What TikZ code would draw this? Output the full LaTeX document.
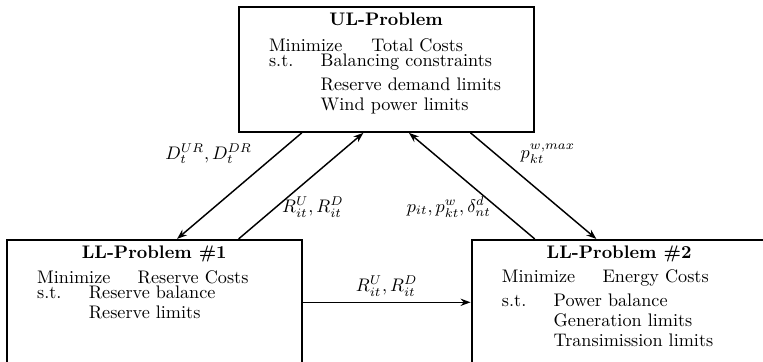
\documentclass[tikz,border=0pt]{standalone}
\usepackage{amsmath,amssymb}
\usepackage{tikz}
\usetikzlibrary{arrows.meta,calc}

\begin{document}
\begin{tikzpicture}[
    problem/.style={draw, line width=1.1pt, minimum width=5.70cm, minimum height=2.41cm, inner sep=0pt},
    probtitle/.style={font=\bfseries, anchor=base, inner sep=0pt},
    probbody/.style={anchor=base west, text width=5cm, align=left, inner sep=0pt},
    arrow/.style={-{Stealth[length=5.5pt, width=4pt]}, thick},
    lbl/.style={inner sep=3pt},
]
\useasboundingbox (0,0) rectangle (14.74,-6.99);

\node[problem] (ul) at (7.46,-1.342) {};
\node[probtitle] (ultitle) at ([yshift=-0.37cm]ul.north) {UL-Problem};
\node[probbody] (ulbody) at ([xshift=0.6cm,yshift=-0.87cm]ul.north west) {Minimize\hspace{16pt}Total Costs\\[-3.8pt]
  s.t.\hspace{15pt}Balancing constraints\\[1.2pt]
  \hphantom{s.t.}\hspace{15pt}Reserve demand limits\\[-1pt]
  \hphantom{s.t.}\hspace{15pt}Wind power limits};

\node[problem] (ll1) at (2.98,-5.84) {};
\node[probtitle] (ll1title) at ([yshift=-0.37cm]ll1.north) {LL-Problem \#1};
\node[probbody] (ll1body) at ([xshift=0.6cm,yshift=-0.86cm]ll1.north west) {Minimize\hspace{15pt}Reserve Costs\\[-3.8pt]
  s.t.\hspace{15pt}Reserve balance\\[-1pt]
  \hphantom{s.t.}\hspace{15pt}Reserve limits};

\node[problem] (ll2) at (11.96,-5.84) {};
\node[probtitle] (ll2title) at ([yshift=-0.37cm]ll2.north) {LL-Problem \#2};
\node[probbody] (ll2body) at ([xshift=0.6cm,yshift=-0.85cm]ll2.north west) {Minimize\hspace{15pt}Energy Costs\\[1.2pt]
  s.t.\hspace{15pt}Power balance\\[-1pt]
  \hphantom{s.t.}\hspace{15pt}Generation limits\\[-1pt]
  \hphantom{s.t.}\hspace{15pt}Transimission limits};

\draw[arrow] ([xshift=-1.63cm]ul.south) -- node[lbl, above left, pos=0.35] {$D_t^{UR}, D_t^{DR}$} ([xshift=0.44cm]ll1.north);
\draw[arrow] ([xshift=1.63cm]ll1.north) -- node[lbl, right, pos=0.3] {$R_{it}^U, R_{it}^D$} ([xshift=-0.44cm]ul.south);
\draw[arrow] ([xshift=-1.63cm]ll2.north) -- node[lbl, left, pos=0.3] {$p_{it}, p_{kt}^w, \delta_{nt}^d$} ([xshift=0.44cm]ul.south);
\draw[arrow] ([xshift=1.63cm]ul.south) -- node[lbl, above right, pos=0.35] {$p_{kt}^{w,max}$} ([xshift=-0.44cm]ll2.north);
\draw[arrow] (ll1) -- node[lbl, above] {$R_{it}^U, R_{it}^D$} (ll2);

\end{tikzpicture}
\end{document}
